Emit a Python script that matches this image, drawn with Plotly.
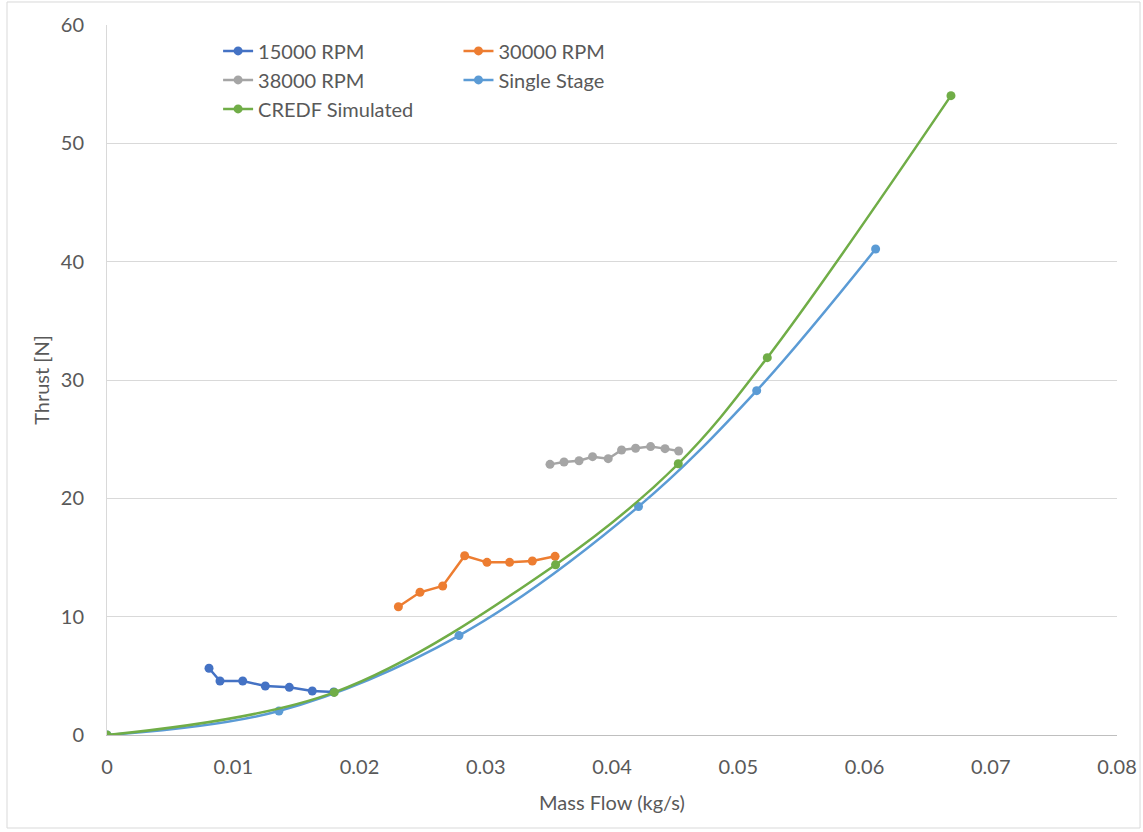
import plotly.graph_objects as go

# ---- data ----
rpm15_x = [0.00808, 0.00895, 0.01075, 0.01254, 0.01444, 0.01626, 0.01796]
rpm15_y = [5.64, 4.56, 4.56, 4.14, 4.03, 3.72, 3.63]

rpm30_x = [0.02308, 0.02479, 0.02659, 0.02833, 0.03010, 0.03189, 0.03369, 0.03549]
rpm30_y = [10.84, 12.06, 12.59, 15.15, 14.59, 14.59, 14.70, 15.10]

rpm38_x = [0.03509, 0.03620, 0.03739, 0.03846, 0.03970, 0.04076, 0.04187, 0.04306, 0.04420, 0.04528]
rpm38_y = [22.87, 23.07, 23.18, 23.52, 23.35, 24.08, 24.23, 24.37, 24.20, 24.00]

single_x = [0.0, 0.01362, 0.02788, 0.04210, 0.05146, 0.06088]
single_y = [0.0, 2.03, 8.40, 19.30, 29.10, 41.07]

credf_x = [0.0, 0.01800, 0.03553, 0.04525, 0.05230, 0.06685]
credf_y = [0.0, 3.60, 14.39, 22.92, 31.89, 54.03]

x_ticks = [0, 0.01, 0.02, 0.03, 0.04, 0.05, 0.06, 0.07, 0.08]
x_tick_labels = ["0", "0.01", "0.02", "0.03", "0.04", "0.05", "0.06", "0.07", "0.08"]
y_ticks = [0, 10, 20, 30, 40, 50, 60]

FONT = "Lato, 'Open Sans', sans-serif"
TXT = "#595959"

fig = go.Figure()

def add(x, y, name, color, shape, legend):
    fig.add_trace(go.Scatter(
        x=x, y=y, name=name, mode="lines+markers",
        line=dict(color=color, width=2.5, shape=shape, smoothing=1.0),
        marker=dict(color=color, size=9),
        legend=legend,
    ))

add(rpm15_x, rpm15_y, "15000 RPM", "#4472C4", "linear", "legend")
add(rpm30_x, rpm30_y, "30000 RPM", "#ED7D31", "linear", "legend2")
add(rpm38_x, rpm38_y, "38000 RPM", "#A5A5A5", "linear", "legend")
add(single_x, single_y, "Single Stage", "#5B9BD5", "spline", "legend2")
add(credf_x, credf_y, "CREDF Simulated", "#70AD47", "spline", "legend")

legend_common = dict(
    orientation="v", xanchor="left", yanchor="top",
    bgcolor="rgba(0,0,0,0)", font=dict(family=FONT, size=20, color=TXT),
    tracegroupgap=0, itemwidth=30,
)

fig.update_layout(
    width=1143, height=832,
    margin=dict(l=107, r=26, t=25, b=97, autoexpand=False),
    paper_bgcolor="white", plot_bgcolor="white",
    font=dict(family=FONT, color=TXT),
    legend=dict(x=0.110, y=0.991, **legend_common),
    legend2=dict(x=0.348, y=0.991, **legend_common),
    xaxis=dict(
        range=[0, 0.08], tickvals=x_ticks, ticktext=x_tick_labels, automargin=False,
        showgrid=False, zeroline=False, showline=True, linecolor="#bfbfbf", linewidth=1,
        ticks="", tickfont=dict(family=FONT, size=20, color=TXT), ticklabelstandoff=14,
        title=dict(text="Mass Flow (kg/s)", font=dict(family=FONT, size=20, color=TXT), standoff=18),
    ),
    yaxis=dict(
        range=[0, 60], tickvals=y_ticks, automargin=False,
        showgrid=True, gridcolor="#d9d9d9", gridwidth=1, zeroline=False,
        showline=True, linecolor="#d9d9d9", linewidth=1,
        ticks="", tickfont=dict(family=FONT, size=20, color=TXT), ticklabelstandoff=18,
        title=dict(text="Thrust [N]", font=dict(family=FONT, size=20, color=TXT), standoff=5),
    ),
    shapes=[dict(type="rect", xref="paper", yref="paper",
                 x0=-0.099, x1=1.0228, y0=-0.131, y1=1.0324,
                 line=dict(color="#d9d9d9", width=1), fillcolor="rgba(0,0,0,0)", layer="below")],
)

fig.write_html("out.html")
